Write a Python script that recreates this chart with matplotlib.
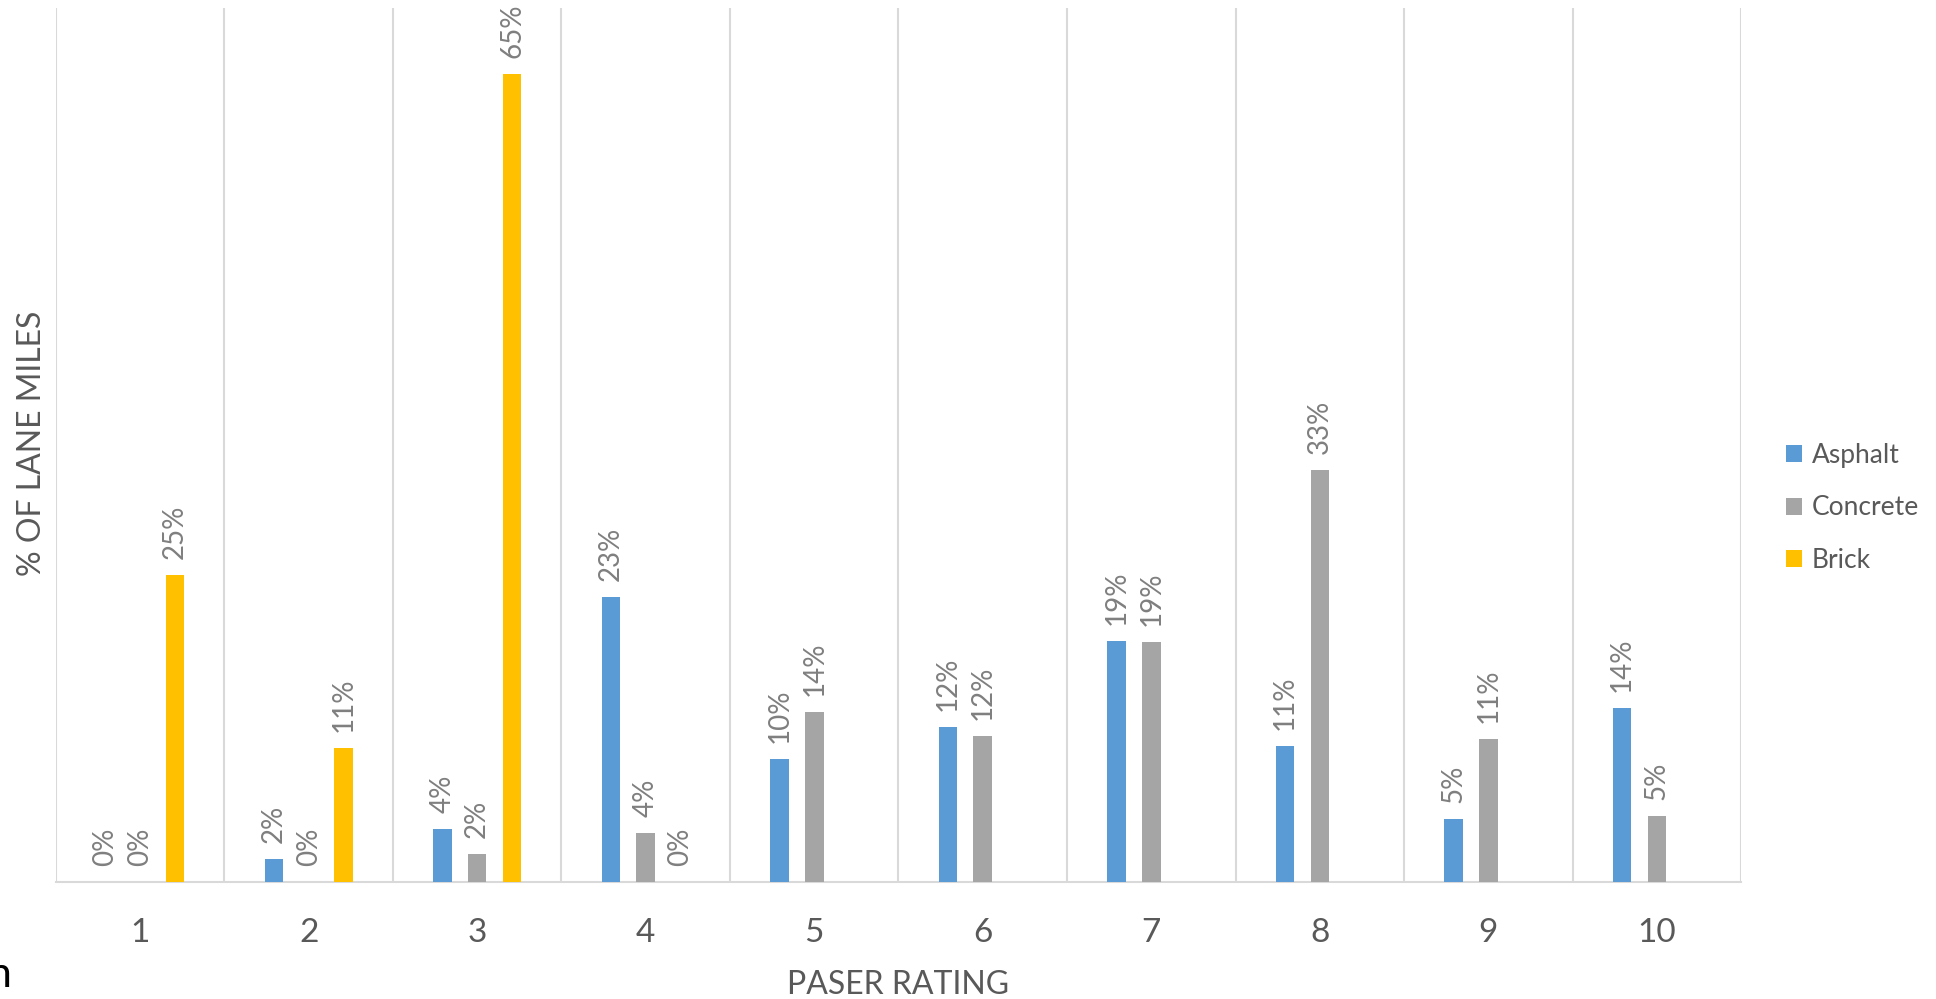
import matplotlib
matplotlib.use("Agg")
import matplotlib.pyplot as plt
import numpy as np

# PASER rating distribution by pavement type (% of lane miles)
ratings = ["1", "2", "3", "4", "5", "6", "7", "8", "9", "10"]
asphalt = [0.0, 1.8, 4.2, 22.8, 9.8, 12.4, 19.3, 10.9, 5.0, 13.9]
concrete = [0.0, 0.0, 2.2, 3.9, 13.6, 11.7, 19.2, 33.0, 11.4, 5.3]
brick = [24.6, 10.7, 64.7, 0.0, None, None, None, None, None, None]

series_names = ["Asphalt", "Concrete", "Brick"]
colors = ["#5B9BD5", "#A5A5A5", "#FFC000"]

plt.rcParams['font.family'] = ['Lato', 'DejaVu Sans']

fig = plt.figure(figsize=(19.36, 9.99), dpi=100)
ax = fig.add_axes([0.0289, 0.1174, 0.8704, 0.8746])

x = np.arange(len(ratings))
width = 0.11
step = 0.207

for i, (vals, name, col) in enumerate(zip([asphalt, concrete, brick], series_names, colors)):
    offs = (i - 1) * step
    xs = [xx + offs for xx, v in zip(x, vals) if v is not None]
    vs = [v for v in vals if v is not None]
    ax.bar(xs, vs, width=width, color=col, label=name, zorder=3)
    for xx, v in zip(xs, vs):
        ax.annotate(f"{round(v):.0f}%", (xx, v), xytext=(0, 16), textcoords='offset pixels',
                    rotation=90, ha='center', va='bottom', fontsize=20, color='#7F7F7F')

ax.set_xlim(-0.5, len(ratings) - 0.5)
ax.set_ylim(0, 70)

# category boundary gridlines
for b in np.arange(-0.5, len(ratings), 1.0):
    ax.axvline(b, color='#D9D9D9', lw=1.5, zorder=1)

for s in ['top', 'right', 'left']:
    ax.spines[s].set_visible(False)
ax.spines['bottom'].set_color('#D9D9D9')
ax.spines['bottom'].set_linewidth(1.5)
ax.set_yticks([])
ax.set_xticks(x)
ax.set_xticklabels(ratings, fontsize=24, color='#595959')
ax.tick_params(axis='x', length=0, pad=26)

fig.text(0.4641, 0.005, "PASER RATING", ha='center', va='baseline', fontsize=23, color='#595959')
fig.text(0.0165, 0.556, "% OF LANE MILES", ha='center', va='center', rotation=90,
         fontsize=23, color='#595959')

ax.legend(loc='center left', bbox_to_anchor=(0.9225, 0.4915), bbox_transform=fig.transFigure,
          frameon=False, fontsize=19, labelcolor='#595959', handlelength=0.62, handleheight=0.62,
          handletextpad=0.35, labelspacing=1.05, borderpad=0, borderaxespad=0)

# clipped word fragment at the left edge of the source image
fig.text(0.0062, 0.0123, "n", ha='right', va='baseline', fontsize=31, color='black')

fig.savefig("out.png", dpi=100)
